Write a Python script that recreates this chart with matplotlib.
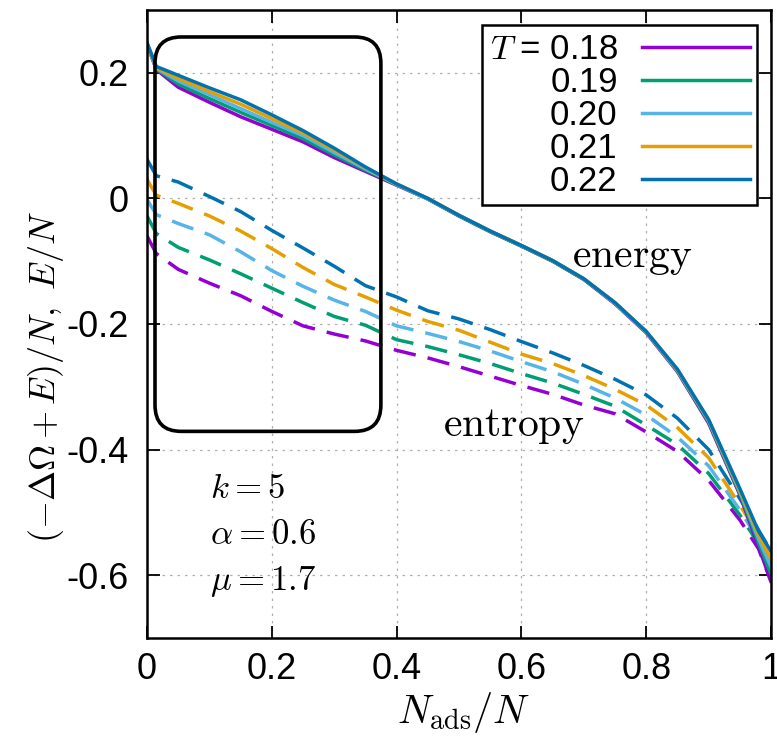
import numpy as np
import matplotlib
matplotlib.use("Agg")
import matplotlib.pyplot as plt
from matplotlib.patches import FancyBboxPatch

plt.rcParams['font.family'] = ['Liberation Sans', 'DejaVu Sans']
plt.rcParams['mathtext.fontset'] = 'cm'
plt.rcParams['axes.unicode_minus'] = False

# N_ads/N sample points
x = [0, 0.015, 0.05, 0.1, 0.15, 0.2, 0.25, 0.3, 0.35, 0.4, 0.45, 0.5,
     0.55, 0.6, 0.65, 0.7, 0.75, 0.8, 0.85, 0.9, 0.95, 0.98, 1.0]

temps = ['0.18', '0.19', '0.20', '0.21', '0.22']
colors = ['#9400d3', '#009e73', '#56b4e9', '#e69f00', '#0072b2']

# energy E/N (solid)
energy = {
    '0.18': [0.245, 0.205, 0.177, 0.153, 0.130, 0.110, 0.090, 0.065, 0.043, 0.021, -0.001, -0.028,
             -0.053, -0.076, -0.100, -0.129, -0.168, -0.214, -0.276, -0.358, -0.472, -0.555, -0.610],
    '0.19': [0.246, 0.206, 0.182, 0.159, 0.137, 0.116, 0.095, 0.069, 0.045, 0.022, -0.001, -0.028,
             -0.053, -0.076, -0.100, -0.129, -0.167, -0.213, -0.275, -0.356, -0.470, -0.549, -0.598],
    '0.20': [0.246, 0.207, 0.187, 0.165, 0.143, 0.121, 0.100, 0.073, 0.047, 0.022, -0.001, -0.027,
             -0.052, -0.075, -0.099, -0.128, -0.167, -0.213, -0.274, -0.354, -0.467, -0.542, -0.587],
    '0.21': [0.247, 0.208, 0.191, 0.170, 0.150, 0.127, 0.104, 0.077, 0.049, 0.023, 0.000, -0.027,
             -0.052, -0.075, -0.099, -0.128, -0.166, -0.212, -0.273, -0.353, -0.465, -0.536, -0.575],
    '0.22': [0.248, 0.210, 0.196, 0.176, 0.157, 0.133, 0.108, 0.080, 0.050, 0.023, 0.000, -0.027,
             -0.052, -0.075, -0.099, -0.128, -0.166, -0.212, -0.272, -0.352, -0.462, -0.530, -0.562],
}

# entropy part (-dOmega + E)/N (dashed)
entropy = {
    '0.18': [-0.060, -0.088, -0.113, -0.135, -0.155, -0.180, -0.203, -0.216, -0.227, -0.242, -0.254, -0.268,
             -0.283, -0.298, -0.312, -0.329, -0.343, -0.372, -0.403, -0.449, -0.512, -0.558, -0.610],
    '0.19': [-0.028, -0.056, -0.078, -0.098, -0.120, -0.143, -0.166, -0.188, -0.202, -0.225, -0.236, -0.249,
             -0.263, -0.279, -0.294, -0.312, -0.331, -0.361, -0.392, -0.438, -0.504, -0.550, -0.598],
    '0.20': [-0.002, -0.026, -0.040, -0.058, -0.085, -0.115, -0.140, -0.162, -0.180, -0.203, -0.215, -0.228,
             -0.243, -0.260, -0.276, -0.296, -0.318, -0.345, -0.380, -0.426, -0.496, -0.544, -0.587],
    '0.21': [0.030, 0.005, -0.008, -0.028, -0.052, -0.080, -0.110, -0.137, -0.157, -0.178, -0.196, -0.210,
             -0.229, -0.248, -0.263, -0.282, -0.304, -0.329, -0.365, -0.413, -0.488, -0.537, -0.575],
    '0.22': [0.062, 0.036, 0.026, 0.003, -0.021, -0.051, -0.079, -0.108, -0.139, -0.157, -0.179, -0.192,
             -0.209, -0.228, -0.246, -0.266, -0.288, -0.313, -0.350, -0.400, -0.478, -0.528, -0.562],
}

xticks = [0, 0.2, 0.4, 0.6, 0.8, 1.0]
xticklabels = ['0', '0.2', '0.4', '0.6', '0.8', '1']
yticks = [0.2, 0, -0.2, -0.4, -0.6]
yticklabels = ['0.2', '0', '-0.2', '-0.4', '-0.6']

fig = plt.figure(figsize=(7.77, 7.39), dpi=100)
ax = fig.add_axes([0.1892, 0.1367, 0.8031, 0.8498])

lines = []
for t, c in zip(temps, colors):
    ax.plot(x, entropy[t], color=c, lw=2.5, dashes=(6.5, 3.5))
for t, c in zip(temps, colors):
    l, = ax.plot(x, energy[t], color=c, lw=2.5)
    lines.append(l)

ax.set_xlim(0, 1)
ax.set_ylim(-0.7, 0.3)
ax.set_xticks(xticks)
ax.set_xticklabels(xticklabels)
ax.set_yticks(yticks)
ax.set_yticklabels(yticklabels)
ax.tick_params(direction='in', length=9, width=1.3, top=True, right=True,
               labelsize=26)
ax.tick_params(axis='y', pad=13)
ax.tick_params(axis='x', pad=10)
ax.grid(True, ls=(0, (2, 4)), color='#b0b0b0', lw=0.9)
for s in ax.spines.values():
    s.set_linewidth(1.8)

ax.set_xlabel(r'$N_{\rm ads}/N$', fontsize=29)
ax.xaxis.set_label_coords(0.508, -0.083)
ax.set_ylabel(r'$(-\Delta\Omega+E)/N,\ E/N$', fontsize=26)
ax.yaxis.set_label_coords(-0.13, 0.415)

# rounded box around the low-coverage region
box = FancyBboxPatch((0.0128, -0.371), 0.362, 0.628,
                     boxstyle='round,pad=0,rounding_size=0.042',
                     fill=False, ec='black', lw=2.6, transform=ax.transData, zorder=5)
ax.add_patch(box)

ax.text(0.777, -0.094, r'$\mathrm{energy}$', fontsize=30, ha='center', va='center')
ax.text(0.588, -0.363, r'$\mathrm{entropy}$', fontsize=30, ha='center', va='center')
ax.text(0.101, -0.462, r'$k=5$', fontsize=25, ha='left', va='center')
ax.text(0.101, -0.536, r'$\alpha=0.6$', fontsize=25, ha='left', va='center')
ax.text(0.101, -0.610, r'$\mu=1.7$', fontsize=25, ha='left', va='center')

labels = ['$T$ = ' + temps[0]] + temps[1:]
leg = ax.legend(lines, labels, loc='upper right', bbox_to_anchor=(0.978, 0.976),
                borderaxespad=0, markerfirst=False, fontsize=25, handlelength=3.1,
                handletextpad=0.7, labelspacing=0.0, fancybox=False, framealpha=1,
                edgecolor='black', borderpad=0.22)
leg.get_frame().set_linewidth(1.8)

fig.savefig('out.png', dpi=100)
